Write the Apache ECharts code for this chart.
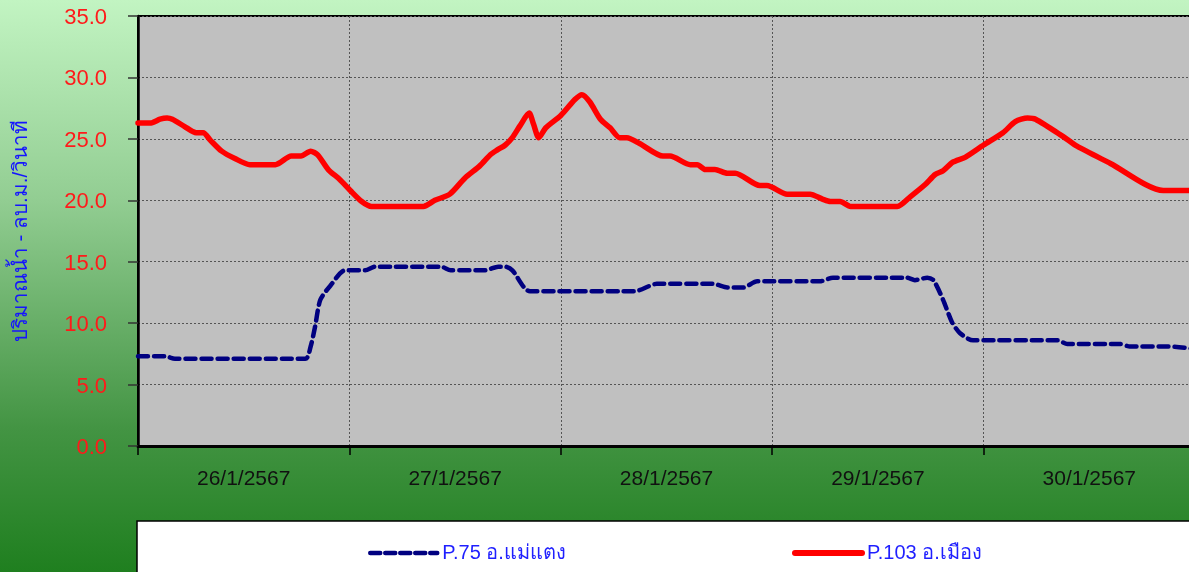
<!DOCTYPE html>
<html>
<head>
    <meta charset="utf-8">
    <title>ปริมาณน้ำ</title>
    <style>
        html, body {
            margin: 0;
            padding: 0;
            overflow: hidden;
        }
        #main {
            width: 1195px;
            height: 572px;
        }
    </style>
</head>
<body>
    <div id="main"></div>
    <script src="https://cdn.jsdelivr.net/npm/echarts@6/dist/echarts.min.js"></script>
    <script>
        // วันที่ (แกน X)
        var days = ['26/1/2567', '27/1/2567', '28/1/2567', '29/1/2567', '30/1/2567'];
        var yTicks = [0, 5, 10, 15, 20, 25, 30, 35];

        // P.75 อ.แม่แตง  (ชั่วโมงนับจาก 26/1 00:00, ลบ.ม./วินาที)
        var p75Hours = [0, 3.1, 4.2, 19.0, 19.6, 20.1, 20.7, 21.9, 23.5, 25.8, 26.9, 34.4, 35.5, 39.4, 40.9,
            41.7, 42.5, 44.5, 56.4, 58.9, 65.3, 66.9, 68.7, 70.3, 77.4, 78.9, 87.3, 88.2, 89.6, 90.3,
            91.4, 92.4, 93.3, 94.8, 104.4, 105.5, 111.5, 112.6, 116.9, 120];
        var p75Values = [7.3, 7.3, 7.1, 7.1, 8.1, 9.7, 11.9, 13.1, 14.3, 14.3, 14.6, 14.6, 14.3, 14.3, 14.6,
            14.6, 14.3, 12.6, 12.6, 13.2, 13.2, 12.9, 12.9, 13.4, 13.4, 13.7, 13.7, 13.5, 13.7, 13.5,
            11.9, 10.1, 9.2, 8.6, 8.6, 8.3, 8.3, 8.1, 8.1, 7.9];

        // P.103 อ.เมือง
        var p103Hours = [0, 1.5, 2.5, 3.3, 3.9, 5.3, 6.6, 7.4, 8.2, 9.5, 11.0, 12.7, 15.6, 17.4, 18.5,
            19.6, 20.4, 21.6, 22.9, 24.1, 25.4, 26.5, 32.4, 33.7, 35.4, 37.1, 38.8, 40.0, 40.8, 41.7,
            42.5, 43.4, 44.4, 44.9, 45.5, 46.3, 48.0, 49.6, 50.4, 51.3, 52.5, 53.6, 54.7, 55.5, 57.0,
            59.6, 60.4, 62.7, 63.5, 64.4, 65.5, 66.9, 67.8, 70.6, 71.4, 73.7, 76.3, 77.7, 78.6, 79.7,
            80.9, 86.2, 87.7, 89.4, 90.5, 91.4, 92.5, 93.9, 96.0, 98.2, 99.6, 101.0, 101.9, 105.0, 106.6,
            110.4, 116.4, 120];
        var p103Values = [26.3, 26.3, 26.6, 26.7, 26.6, 26.0, 25.5, 25.5, 24.9, 24.0, 23.4, 22.9, 22.9, 23.6, 23.6,
            24.0, 23.7, 22.5, 21.7, 20.8, 19.9, 19.5, 19.5, 20.0, 20.5, 21.8, 22.8, 23.7, 24.1, 24.5,
            25.1, 26.1, 27.1, 26.2, 25.1, 25.9, 26.9, 28.2, 28.6, 28.0, 26.6, 25.9, 25.1, 25.1, 24.6,
            23.6, 23.6, 22.9, 22.9, 22.5, 22.5, 22.2, 22.2, 21.2, 21.2, 20.5, 20.5, 20.1, 19.9, 19.9,
            19.5, 19.5, 20.3, 21.3, 22.1, 22.4, 23.1, 23.5, 24.5, 25.5, 26.4, 26.7, 26.6, 25.2, 24.4,
            23.0, 20.8, 20.8];

        function pairs(hours, values) {
            var res = [];
            for (var i = 0; i < hours.length; i++) {
                res.push([hours[i], values[i]]);
            }
            return res;
        }

        var chart = echarts.init(document.getElementById('main'));

        var legendBase = {
            top: 538,
            z: 10,
            itemWidth: 67,
            itemHeight: 10,
            itemGap: 3,
            itemStyle: { opacity: 0 },
            textStyle: { color: '#1f1fff', fontSize: 20, fontFamily: 'Liberation Sans' }
        };

        var option = {
            animation: false,
            backgroundColor: {
                type: 'linear', x: 0, y: 0, x2: 0, y2: 1,
                colorStops: [
                    { offset: 0, color: '#c2f4c2' },
                    { offset: 0.35, color: '#92cd92' },
                    { offset: 0.75, color: '#439443' },
                    { offset: 1, color: '#1f7f1f' }
                ]
            },
            graphic: [{
                type: 'rect',
                z: 0,
                shape: { x: 137, y: 521, width: 1100, height: 60 },
                style: { fill: '#ffffff', stroke: '#000000', lineWidth: 1.5 }
            }],
            grid: {
                left: 138,
                top: 16,
                right: 0,
                bottom: 126,
                show: true,
                backgroundColor: '#c0c0c0',
                borderColor: '#000000',
                borderWidth: 2
            },
            legend: [
                Object.assign({}, legendBase, {
                    data: ['P.75 อ.แม่แตง'],
                    left: 363,
                    lineStyle: { width: 4.5, color: '#000080', type: [10, 5] }
                }),
                Object.assign({}, legendBase, {
                    data: ['P.103 อ.เมือง'],
                    left: 787,
                    lineStyle: { width: 6, color: '#ff0000' }
                })
            ],
            xAxis: [{
                type: 'value',
                min: 0,
                max: 120,
                interval: 24,
                axisLine: { show: true, onZero: false, lineStyle: { color: '#000000', width: 3 } },
                axisTick: { show: true, length: 9, lineStyle: { color: '#000000', width: 1.5 } },
                axisLabel: { show: false },
                splitLine: { show: true, lineStyle: { color: '#555555', type: [2, 2], width: 1 } }
            }, {
                type: 'category',
                data: days,
                position: 'bottom',
                boundaryGap: true,
                axisLine: { show: false },
                axisTick: { show: false },
                splitLine: { show: false },
                axisLabel: {
                    color: '#111111',
                    fontSize: 21,
                    fontFamily: 'Liberation Sans',
                    margin: 23
                }
            }],
            yAxis: {
                type: 'value',
                min: yTicks[0],
                max: yTicks[yTicks.length - 1],
                interval: 5,
                name: 'ปริมาณน้ำ - ลบ.ม./วินาที',
                nameLocation: 'middle',
                nameGap: 106,
                nameTextStyle: { color: '#1414ff', fontSize: 20.5, fontFamily: 'Liberation Sans' },
                axisLine: { show: true, lineStyle: { color: '#000000', width: 2.5 } },
                axisTick: { show: true, length: 10, lineStyle: { color: '#333333', width: 1.5 } },
                axisLabel: {
                    color: '#ff1a1a',
                    fontSize: 22,
                    fontFamily: 'Liberation Sans',
                    margin: 31,
                    verticalAlign: 'top',
                    padding: [-9, 0, 0, 0],
                    formatter: function (v) { return v.toFixed(1); }
                },
                splitLine: { show: true, lineStyle: { color: '#555555', type: [2, 2], width: 1 } }
            },
            series: [{
                name: 'P.75 อ.แม่แตง',
                type: 'line',
                xAxisIndex: 0,
                data: pairs(p75Hours, p75Values),
                symbol: 'none',
                smooth: 0.25,
                color: '#000080',
                lineStyle: { color: '#000080', width: 4.5, type: [10, 6], cap: 'round' },
                z: 3
            }, {
                name: 'P.103 อ.เมือง',
                type: 'line',
                xAxisIndex: 0,
                data: pairs(p103Hours, p103Values),
                symbol: 'none',
                smooth: 0.25,
                color: '#ff0000',
                lineStyle: { color: '#ff0000', width: 5.5, cap: 'round', join: 'round' },
                z: 4
            }]
        };

        chart.setOption(option);
    </script>
</body>
</html>
